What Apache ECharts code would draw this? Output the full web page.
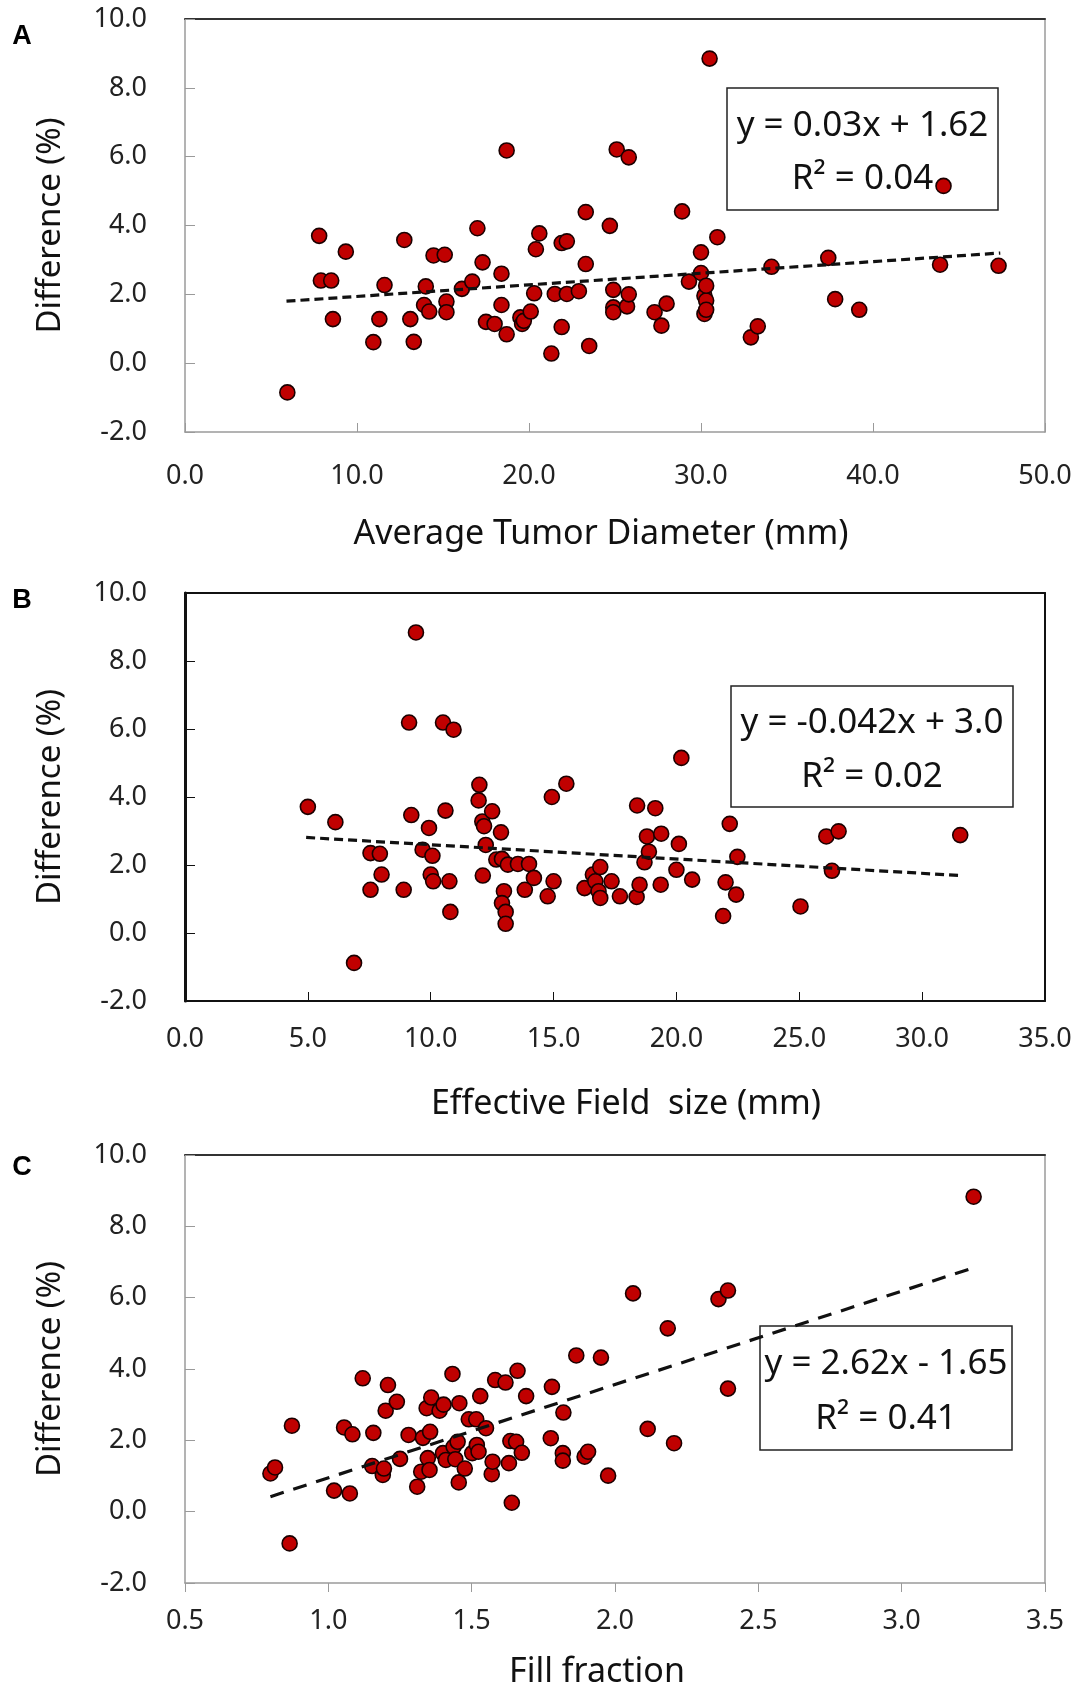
<!DOCTYPE html>
<html>
<head>
<meta charset="utf-8">
<title>Difference vs tumor size</title>
<script src="https://cdn.jsdelivr.net/npm/echarts@6/dist/echarts.min.js"></script>
<style>
  html, body { margin: 0; padding: 0; background: #fff; }
  #chart { width: 1075px; height: 1691px; }
</style>
</head>
<body>
<div id="chart"></div>
<script>
// panel A - average tumor diameter (mm) vs difference (%)
const diamX = [5.95, 7.8, 7.9, 8.5, 8.6, 9.35, 10.95, 11.3, 11.6, 12.75, 13.1, 13.3, 14.0, 13.9, 14.2, 14.45, 15.1, 15.2, 15.2, 16.1,
  16.7, 17.0, 17.3, 17.5, 18.0, 18.4, 18.4, 18.7, 18.7, 19.5, 19.6, 19.7, 20.1, 20.3, 20.4, 20.6, 21.3, 21.5, 21.9, 21.9,
  22.2, 22.2, 22.9, 23.3, 23.3, 23.5, 24.7, 24.9, 24.9, 24.9, 25.1, 25.7, 25.8, 25.8, 27.3, 27.7, 28.0, 28.9, 29.3, 30.0,
  30.0, 30.2, 30.2, 30.3, 30.3, 30.3, 30.5, 30.95, 32.9, 33.3, 34.1, 37.4, 37.8, 39.2, 43.9, 44.1, 47.3]
const diamY = [-0.85, 3.7, 2.4, 2.4, 1.28, 3.24, 0.61, 1.28, 2.27, 3.58, 1.28, 0.62, 2.23, 1.69, 1.5, 3.13, 3.15, 1.79, 1.48, 2.16,
  2.37, 3.92, 2.93, 1.2, 1.14, 2.6, 1.69, 6.18, 0.84, 1.33, 1.14, 1.23, 1.5, 2.03, 3.31, 3.77, 0.28, 2.01, 1.05, 3.49,
  3.54, 2.01, 2.09, 4.39, 2.88, 0.5, 3.99, 2.13, 1.62, 1.48, 6.21, 1.65, 2.0, 5.98, 1.48, 1.09, 1.73, 4.41, 2.37, 3.22,
  2.62, 1.96, 1.43, 1.82, 2.25, 1.55, 8.85, 3.66, 0.75, 1.07, 2.8, 3.06, 1.86, 1.55, 2.86, 5.15, 2.83]
const diamTrend = [[5.9, 1.8], [47.4, 3.2]]

// panel B - effective field size (mm)
const fieldX = [5.0, 6.12, 6.88, 7.55, 7.93, 7.55, 8.0, 8.9, 9.12, 9.21, 9.4, 9.67, 9.93, 10.0, 10.07, 10.1, 10.5, 10.6, 10.76, 10.8,
  10.93, 11.98, 11.95, 12.1, 12.17, 12.12, 12.24, 12.5, 12.67, 12.86, 12.9, 12.98, 12.9, 13.05, 13.05, 13.14, 13.55, 13.83, 14.0, 14.2,
  14.76, 14.93, 15.0, 15.52, 16.26, 16.6, 16.7, 16.83, 16.9, 16.9, 17.36, 17.7, 18.38, 18.4, 18.5, 18.7, 18.8, 18.88, 19.14, 19.36,
  19.38, 20.0, 20.1, 20.2, 20.64, 21.9, 22.0, 22.17, 22.43, 22.48, 25.05, 26.1, 26.6, 26.33, 31.55]
const fieldY = [3.71, 3.26, -0.88, 2.35, 2.33, 1.27, 1.72, 1.27, 6.19, 3.47, 8.84, 2.45, 3.09, 1.72, 2.27, 1.52, 6.19, 3.6, 1.52, 0.62,
  5.98, 4.36, 3.9, 3.28, 3.14, 1.69, 2.59, 3.58, 2.16, 2.96, 2.18, 1.23, 0.88, 0.62, 0.27, 2.01, 2.03, 1.27, 2.03, 1.62,
  1.08, 4.0, 1.52, 4.39, 1.32, 1.72, 1.52, 1.23, 1.03, 1.94, 1.52, 1.08, 1.06, 3.75, 1.42, 2.08, 2.84, 2.39, 3.67, 1.42,
  2.92, 1.86, 2.62, 5.15, 1.57, 0.5, 1.49, 3.21, 1.13, 2.24, 0.78, 2.84, 2.99, 1.83, 2.88]
const fieldTrend = [[4.93, 2.81], [31.55, 1.69]]

// panel C - fill fraction
const fillX = [0.798, 0.814, 0.865, 0.873, 1.02, 1.075, 1.055, 1.084, 1.12, 1.153, 1.157, 1.19, 1.194, 1.2, 1.208, 1.239, 1.25, 1.28, 1.31, 1.324,
  1.33, 1.343, 1.347, 1.353, 1.355, 1.359, 1.388, 1.4, 1.402, 1.41, 1.433, 1.437, 1.443, 1.455, 1.457, 1.451, 1.476, 1.49, 1.502, 1.516,
  1.518, 1.524, 1.53, 1.55, 1.57, 1.573, 1.582, 1.618, 1.63, 1.635, 1.64, 1.655, 1.66, 1.675, 1.69, 1.776, 1.78, 1.818, 1.818, 1.82,
  1.865, 1.894, 1.906, 1.951, 1.976, 2.063, 2.114, 2.184, 2.206, 2.361, 2.394, 2.394, 3.251]
const fillY = [1.07, 1.24, -0.89, 2.41, 0.59, 0.51, 2.36, 2.17, 3.74, 1.28, 2.21, 1.03, 1.21, 2.83, 3.55, 3.08, 1.48, 2.15, 0.7, 1.12,
  2.07, 2.9, 1.5, 1.17, 2.24, 3.2, 2.83, 1.64, 3.0, 1.45, 3.86, 1.82, 1.47, 0.82, 3.04, 1.96, 1.21, 2.59, 1.64, 2.59,
  1.87, 1.68, 3.24, 2.34, 1.05, 1.4, 3.69, 3.62, 1.36, 1.98, 0.25, 1.96, 3.95, 1.65, 3.24, 2.06, 3.5, 1.64, 1.43, 2.78,
  4.38, 1.54, 1.68, 4.32, 1.01, 6.12, 2.32, 5.14, 1.92, 5.96, 6.2, 3.45, 8.83]
const fillTrend = [[0.798, 0.42], [3.251, 6.84]]

const yTicks = { min: -2, max: 10, interval: 2 }
const xTicksA = { min: 0, max: 50, interval: 10 }
const xTicksB = { min: 0, max: 35, interval: 5 }
const xTicksC = { min: 0.5, max: 3.5, interval: 0.5 }

const FONT = 'Noto Sans'
const pair = (xs, ys) => xs.map((x, i) => [x, ys[i]])

const grids = [
  { left: 185, top: 19, width: 860, height: 413 },
  { left: 185, top: 593, width: 860, height: 408 },
  { left: 185, top: 1155, width: 860, height: 428 }
]
// frame colours per panel: [left/bottom, top, right]
const frames = [
  ['#9a9a9a', '#333', '#9a9a9a'],
  ['#111', '#111', '#111'],
  ['#9a9a9a', '#333', '#9a9a9a']
]

function bottomAxis(i, ticks, name, labelMargin, nameGap, namePad, tickInside) {
  return {
    type: 'value', gridIndex: i, position: 'bottom',
    min: ticks.min, max: ticks.max, interval: ticks.interval,
    name: name, nameLocation: 'middle', nameGap: nameGap,
    nameTextStyle: { fontFamily: FONT, fontSize: 34, color: '#111', padding: namePad },
    axisLine: { show: true, onZero: false, lineStyle: { color: frames[i][0], width: i === 1 ? 2 : 1.5 } },
    axisTick: { show: true, inside: tickInside, length: 9, lineStyle: { color: frames[i][0] } },
    axisLabel: {
      show: true, margin: labelMargin, fontFamily: FONT, fontSize: 27, color: '#222',
      showMinLabel: true, showMaxLabel: true, formatter: v => v.toFixed(1)
    },
    splitLine: { show: false }
  }
}

function topAxis(i, ticks) {
  return {
    type: 'value', gridIndex: i, position: 'top',
    min: ticks.min, max: ticks.max, interval: ticks.interval,
    axisLine: { show: true, onZero: false, lineStyle: { color: frames[i][1], width: 2 } },
    axisTick: { show: false }, axisLabel: { show: false }, splitLine: { show: false }
  }
}

function leftAxis(i) {
  return {
    type: 'value', gridIndex: i, position: 'left',
    min: yTicks.min, max: yTicks.max, interval: yTicks.interval,
    name: 'Difference (%)', nameLocation: 'middle', nameRotate: 90, nameGap: 118,
    nameTextStyle: { fontFamily: FONT, fontSize: 33, color: '#111' },
    axisLine: { show: true, onZero: false, lineStyle: { color: frames[i][0], width: i === 1 ? 3 : 1.5 } },
    axisTick: { show: true, inside: true, length: 10, lineStyle: { color: frames[i][0] } },
    axisLabel: {
      show: true, margin: 38, fontFamily: FONT, fontSize: 27, color: '#222',
      showMinLabel: true, showMaxLabel: true, formatter: v => v.toFixed(1)
    },
    splitLine: { show: false }
  }
}

function rightAxis(i) {
  return {
    type: 'value', gridIndex: i, position: 'right',
    min: yTicks.min, max: yTicks.max, interval: yTicks.interval,
    axisLine: { show: true, onZero: false, lineStyle: { color: frames[i][2], width: i === 1 ? 2 : 1.5 } },
    axisTick: { show: false }, axisLabel: { show: false }, splitLine: { show: false }
  }
}

function dots(i, xs, ys) {
  return {
    type: 'scatter', xAxisIndex: i * 2, yAxisIndex: i * 2,
    data: pair(xs, ys), symbol: 'circle', symbolSize: 15, z: 3,
    itemStyle: { color: '#c00000', borderColor: '#1a0000', borderWidth: 1.6, opacity: 1 },
    emphasis: { disabled: true }
  }
}

function trend(i, pts, dash) {
  return {
    type: 'line', xAxisIndex: i * 2, yAxisIndex: i * 2,
    data: pts, symbol: 'none', z: 4, silent: true,
    lineStyle: { color: '#111', width: 3.2, type: dash }
  }
}

function eqBox(x, y, w, h, line1, line2) {
  return {
    type: 'group', z: 2,
    children: [
      { type: 'rect', shape: { x: x, y: y, width: w, height: h },
        style: { fill: '#fff', stroke: '#222', lineWidth: 1.5 } },
      { type: 'text', x: x + w / 2, y: y + h * 0.31,
        style: { text: line1, font: '35px "Noto Sans"', fill: '#111', align: 'center', verticalAlign: 'middle' } },
      { type: 'text', x: x + w / 2, y: y + h * 0.75,
        style: { text: line2, font: '35px "Noto Sans"', fill: '#111', align: 'center', verticalAlign: 'middle' } }
    ]
  }
}

function letter(ch, x, y) {
  return { type: 'text', x: x, y: y,
    style: { text: ch, font: 'bold 27px "Liberation Sans"', fill: '#000', align: 'center', verticalAlign: 'middle' } }
}

const chart = echarts.init(document.getElementById('chart'), null, { renderer: 'canvas' })

chart.setOption({
  backgroundColor: '#fff',
  animation: false,
  grid: grids.map(g => Object.assign({ containLabel: false, show: true, borderWidth: 0, backgroundColor: '#fff' }, g)),
  xAxis: [
    bottomAxis(0, xTicksA, 'Average Tumor Diameter (mm)', 31, 85, [0, 28, 0, 0], true), topAxis(0, xTicksA),
    bottomAxis(1, xTicksB, 'Effective Field  size (mm)', 25, 86, [0, 0, 0, 22], true), topAxis(1, xTicksB),
    bottomAxis(2, xTicksC, 'Fill fraction', 25, 72, [0, 36, 0, 0], false), topAxis(2, xTicksC)
  ],
  yAxis: [
    leftAxis(0), rightAxis(0),
    leftAxis(1), rightAxis(1),
    leftAxis(2), rightAxis(2)
  ],
  series: [
    dots(0, diamX, diamY), trend(0, diamTrend, [9, 5]),
    dots(1, fieldX, fieldY), trend(1, fieldTrend, [9, 5]),
    dots(2, fillX, fillY), trend(2, fillTrend, [14, 10])
  ],
  graphic: [
    letter('A', 22, 37),
    letter('B', 22, 601),
    letter('C', 22, 1168),
    eqBox(727, 88, 271, 122, 'y = 0.03x + 1.62', 'R² = 0.04'),
    eqBox(731, 686, 282, 121, 'y = -0.042x + 3.0', 'R² = 0.02'),
    eqBox(760, 1326, 252, 124, 'y = 2.62x - 1.65', 'R² = 0.41')
  ]
})
</script>
</body>
</html>
